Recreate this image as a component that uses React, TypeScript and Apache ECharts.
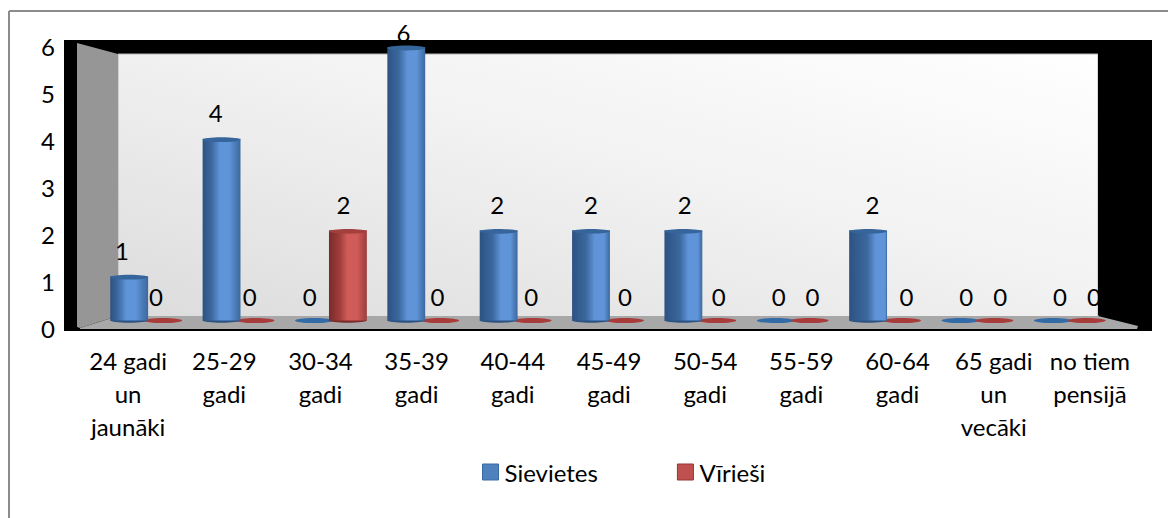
import React, { useEffect, useRef } from "react";
import * as echarts from "echarts";

const categories = [
  "24 gadi\nun\njaunāki", "25-29\ngadi", "30-34\ngadi", "35-39\ngadi", "40-44\ngadi", "45-49\ngadi",
  "50-54\ngadi", "55-59\ngadi", "60-64\ngadi", "65 gadi\nun\nvecāki", "no tiem\npensijā",
];
const sievietes = [1, 4, 0, 6, 2, 2, 2, 0, 2, 0, 0];
const virieshi = [0, 0, 2, 0, 0, 0, 0, 0, 0, 0, 0];
const FONT = "Lato, 'Noto Sans', sans-serif";

const palette = {
  blue: { edge: "#2c5282", mid: "#5f94d8", right: "#3c689e", cap: "#36659c", flat: "#336ba6" },
  red: { edge: "#7a2b2a", mid: "#d05c59", right: "#9c3c3a", cap: "#a33f3c", flat: "#a83c3b" },
};

function cylinder(tone: typeof palette.blue, sign: number) {
  return (params: any, api: any) => {
    const i = api.value(0);
    const v = api.value(1);
    const step = api.size([1, 0])[0];
    const w = step * 0.41;
    const cx = api.coord([i, 0])[0] + sign * step * 0.184;
    const base = api.coord([i, 0])[1];
    const top = api.coord([i, v])[1];
    if (v === 0) {
      return {
        type: "ellipse",
        z2: sign < 0 ? 1 : 2,
        shape: { cx, cy: base - 1.5, rx: w / 2, ry: 2.6 },
        style: { fill: tone.flat },
      };
    }
    const stop = Math.min(0.8, 0.42 + i * 0.035);
    return {
      type: "group",
      z2: 5,
      children: [
        {
          type: "ellipse",
          z2: 5,
          shape: { cx, cy: base - 1.5, rx: w / 2, ry: 2.2 },
          style: { fill: tone.edge },
        },
        {
          type: "rect",
          z2: 6,
          shape: { x: cx - w / 2, y: top, width: w, height: base - top - 1.5 },
          style: {
            fill: new echarts.graphic.LinearGradient(0, 0, 1, 0, [
              { offset: 0, color: tone.edge },
              { offset: Math.max(0.1, stop - 0.22), color: tone.right },
              { offset: stop, color: tone.mid },
              { offset: Math.min(0.97, stop + 0.25), color: tone.mid },
              { offset: 1, color: tone.right },
            ]),
          },
        },
        {
          type: "ellipse",
          z2: 7,
          shape: { cx, cy: top + 1, rx: w / 2, ry: 2.4 },
          style: { fill: tone.cap },
        },
      ],
    };
  };
}

function valueLabel(sign: number) {
  return (params: any, api: any) => {
    const i = api.value(0);
    const v = api.value(1);
    const step = api.size([1, 0])[0];
    const p = api.coord([i, v]);
    return {
      type: "text",
      z2: 10,
      style: {
        text: String(v),
        x: p[0] + sign * step * 0.181,
        y: Math.max(32, p[1] - 26),
        fill: "#000",
        font: `24px ${FONT}`,
        align: "center",
        verticalAlign: "middle",
      },
    };
  };
}

const pairs = (vals: number[]) => vals.map((v, i) => [i, v]);

export default function App() {
  const ref = useRef<HTMLDivElement>(null);
  useEffect(() => {
    document.body.style.margin = "0";
    const chart = echarts.init(ref.current!, null, { renderer: "svg" });
    const hiddenY = { type: "value", min: 0, max: 6, show: false };
    chart.setOption({
      animation: false,
      backgroundColor: "#fff",
      textStyle: { fontFamily: FONT },
      grid: [
        { left: 80, top: 46, width: 1058, height: 282 },
        { left: 100, top: 47, width: 1016, height: 275 },
        { left: 92.1, top: 47, width: 1031.8, height: 275 },
      ],
      xAxis: [
        {
          type: "category",
          gridIndex: 0,
          data: categories,
          axisLine: { show: false },
          axisTick: { show: false },
          axisLabel: { interval: 0, color: "#000", fontSize: 24, lineHeight: 33, margin: 16, fontFamily: FONT },
        },
        { type: "category", gridIndex: 1, data: categories, show: false },
        { type: "category", gridIndex: 2, data: categories, show: false },
      ],
      yAxis: [
        {
          type: "value",
          gridIndex: 0,
          min: 0,
          max: 6,
          interval: 1,
          splitLine: { show: false },
          axisLine: { show: false },
          axisTick: { show: false },
          axisLabel: { color: "#000", fontSize: 24, margin: 25, fontFamily: FONT },
        },
        { ...hiddenY, gridIndex: 1 },
        { ...hiddenY, gridIndex: 2 },
      ],
      legend: {
        left: 482,
        top: 460,
        padding: 0,
        itemWidth: 16,
        itemHeight: 16,
        itemGap: 79,
        icon: "rect",
        textStyle: { color: "#000", fontSize: 24, fontFamily: FONT, padding: [0, 0, 0, 1] },
        data: [
          { name: "Sievietes", itemStyle: { color: "#4f81bd", borderColor: "#3b6aa3", borderWidth: 1 } },
          { name: "Vīrieši", itemStyle: { color: "#c0504d", borderColor: "#943634", borderWidth: 1 } },
        ],
      },
      graphic: {
        elements: [
          { type: "line", z: 1, shape: { x1: 9, y1: 518, x2: 9, y2: 11 }, style: { stroke: "#8c8c8c", lineWidth: 2 } },
          { type: "line", z: 1, shape: { x1: 9, y1: 11, x2: 1168, y2: 11 }, style: { stroke: "#8c8c8c", lineWidth: 2 } },
          { type: "rect", z: -5, shape: { x: 64, y: 40, width: 1088, height: 291 }, style: { fill: "#000" } },
          {
            type: "rect",
            z: -4,
            shape: { x: 118, y: 54, width: 980, height: 263 },
            style: {
              stroke: "#b4b4b4",
              lineWidth: 1,
              fill: new echarts.graphic.LinearGradient(0, 1, 1, 0, [
                { offset: 0, color: "#dcdcdc" },
                { offset: 0.55, color: "#f2f2f2" },
                { offset: 1, color: "#ffffff" },
              ]),
            },
          },
          {
            type: "polygon",
            z: -3,
            shape: { points: [[77, 43], [118, 54], [118, 316], [80, 328], [77, 327]] },
            style: { fill: "#969696" },
          },
          {
            type: "polygon",
            z: -2,
            shape: { points: [[80, 328], [118, 316], [1098, 316], [1138, 326], [1137, 329], [80, 329]] },
            style: { fill: "#a8a8a8" },
          },
          { type: "rect", z: 20, shape: { x: 1098, y: 40, width: 54, height: 275 }, style: { fill: "#000" } },
        ],
      },
      series: [
        {
          type: "custom",
          name: "Sievietes",
          xAxisIndex: 1,
          yAxisIndex: 1,
          itemStyle: { color: "#4f81bd" },
          renderItem: cylinder(palette.blue, -1),
          data: pairs(sievietes),
          encode: { x: 0, y: 1 },
          clip: false,
        },
        {
          type: "custom",
          name: "Vīrieši",
          xAxisIndex: 1,
          yAxisIndex: 1,
          itemStyle: { color: "#c0504d" },
          renderItem: cylinder(palette.red, 1),
          data: pairs(virieshi),
          encode: { x: 0, y: 1 },
          clip: false,
        },
        {
          type: "custom",
          xAxisIndex: 2,
          yAxisIndex: 2,
          renderItem: valueLabel(-1),
          data: pairs(sievietes),
          encode: { x: 0, y: 1 },
          clip: false,
          z: 5,
        },
        {
          type: "custom",
          xAxisIndex: 2,
          yAxisIndex: 2,
          renderItem: valueLabel(1),
          data: pairs(virieshi),
          encode: { x: 0, y: 1 },
          clip: false,
          z: 5,
        },
      ],
    });
    return () => chart.dispose();
  }, []);
  return <div ref={ref} style={{ width: 1168, height: 518 }} />;
}
